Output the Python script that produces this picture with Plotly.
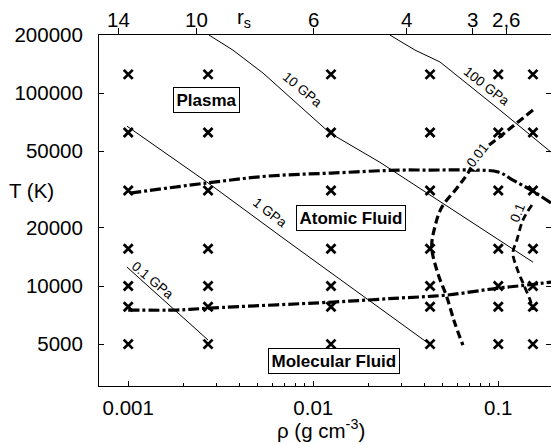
import math
import plotly.graph_objects as go

# ---------------- data ----------------
# simulation grid points (crosses)
grid_rho = [0.001, 0.0027, 0.01247, 0.0428, 0.1, 0.154]
grid_T = [125000, 62500, 31250, 15625, 10000, 7800, 5000]

# plasma / atomic-fluid boundary (thick dash-dot)
upper_rho = [0.00102, 0.00266, 0.00562, 0.0125, 0.0294, 0.0427, 0.0703, 0.100, 0.120, 0.154, 0.193]
upper_T = [30300, 34200, 37100, 38500, 39900, 39900, 39900, 39000, 35400, 31000, 26900]

# atomic / molecular-fluid boundary (thick dash-dot)
lower_rho = [0.001, 0.00183, 0.00277, 0.0128, 0.0294, 0.0528, 0.100, 0.1435, 0.193]
lower_T = [7510, 7510, 7690, 8260, 8670, 8980, 9760, 10120, 10490]

# dashed contours labelled 0.01 and 0.1
c001_rho = [0.154, 0.100, 0.0797, 0.0686, 0.0598, 0.0495, 0.0454, 0.0437, 0.0471, 0.0527, 0.0582, 0.0644]
c001_T = [81600, 58500, 48900, 38500, 32200, 25600, 20200, 15900, 11670, 8770, 6430, 4940]
c01_rho = [0.152, 0.136, 0.126, 0.120, 0.126, 0.136, 0.1486, 0.154]
c01_T = [26300, 22000, 17300, 14830, 12400, 10360, 8460, 7510]

# isobars (thin solid)
iso01_rho = [0.000984, 0.00270]
iso01_T = [12540, 5250]
iso1_rho = [0.000984, 0.00266, 0.00686, 0.0229, 0.0416]
iso1_T = [67400, 34600, 17740, 7690, 5070]
iso10_rho = [0.00273, 0.00368, 0.00535, 0.0123, 0.0229, 0.154]
iso10_T = [200000, 167000, 127000, 62100, 43800, 13300]
iso100_rho = [0.02594, 0.0355, 0.0484, 0.1021, 0.193]
iso100_T = [200000, 167000, 145000, 81600, 49400]

# axes ticks
x_tickvals = [0.001, 0.01, 0.1]
x_ticktext = ["0.001", "0.01", "0.1"]
x_minor = [k * 0.001 for k in range(2, 10)] + [k * 0.01 for k in range(2, 10)]
y_tickvals = [5000, 10000, 20000, 50000, 100000, 200000]
y_ticktext = ["5000", "10000", "20000", "50000", "100000", "200000"]
rs_rho = [0.000891, 0.002351, 0.0100, 0.03209, 0.07297, 0.1101]
rs_text = ["14", "10", "6", "4", "3", "2,6"]

# ---------------- layout geometry ----------------
W, H = 551, 445
ML, MR, MT, MB = 99, 0, 35, 59
PW, PH = W - ML - MR, H - MT - MB
XR = [-3.158, -0.715]
YR = [3.4819, 5.30103]
FONT = "Liberation Sans"
TICKFS = 20.5


def px(x):
    return (x - ML) / PW


def py(y):
    return (H - MB - y) / PH


fig = go.Figure()

# crosses
gx, gy = [], []
for r in grid_rho:
    for t in grid_T:
        gx.append(r)
        gy.append(t)
fig.add_trace(go.Scatter(x=gx, y=gy, mode="markers",
                         marker=dict(symbol="x-thin", size=9, color="black",
                                     line=dict(width=2.8, color="black")),
                         showlegend=False, hoverinfo="skip"))

# isobars
for rr, tt in [(iso01_rho, iso01_T), (iso1_rho, iso1_T), (iso10_rho, iso10_T), (iso100_rho, iso100_T)]:
    fig.add_trace(go.Scatter(x=rr, y=tt, mode="lines", line=dict(color="black", width=1),
                             showlegend=False, hoverinfo="skip"))

# phase boundaries
for rr, tt in [(upper_rho, upper_T), (lower_rho, lower_T)]:
    fig.add_trace(go.Scatter(x=rr, y=tt, mode="lines", line_shape="spline",
                             line=dict(color="black", width=3.2, dash="11px,3px,3px,3px"),
                             showlegend=False, hoverinfo="skip"))

# dashed contours
fig.add_trace(go.Scatter(x=c001_rho, y=c001_T, mode="lines", line_shape="spline",
                         line=dict(color="black", width=3.2, dash="8px,4px"),
                         showlegend=False, hoverinfo="skip"))
fig.add_trace(go.Scatter(x=c01_rho, y=c01_T, mode="lines", line_shape="spline",
                         line=dict(color="black", width=2.8, dash="7px,4px"),
                         showlegend=False, hoverinfo="skip"))

# invisible trace for top r_s axis
fig.add_trace(go.Scatter(x=rs_rho, y=[100000] * len(rs_rho), xaxis="x2", mode="markers",
                         marker=dict(opacity=0), showlegend=False, hoverinfo="skip"))

annotations = []

# boxed region labels
for txt, cx, cy in [("Plasma", 206.5, 100.5), ("Atomic Fluid", 350.5, 218), ("Molecular Fluid", 334, 361)]:
    annotations.append(dict(text="<b>%s</b>" % txt, x=px(cx), y=py(cy), xref="paper", yref="paper",
                            xanchor="center", yanchor="middle", showarrow=False,
                            font=dict(family=FONT, size=17, color="black"),
                            bgcolor="white", bordercolor="black", borderwidth=1, borderpad=2.5))

# rotated line labels
for txt, cx, cy, ang, bg in [("0.1 GPa", 153, 280, 40, None), ("1 GPa", 270, 212, 38, None),
                             ("10 GPa", 302, 90, 40, None), ("100 GPa", 487, 86, 38, None),
                             ("0.01", 477, 155, -52, "white"), ("0.1", 517, 213, -68, None)]:
    ann = dict(text=txt, x=px(cx), y=py(cy), xref="paper", yref="paper",
               xanchor="center", yanchor="middle", showarrow=False, textangle=ang,
               font=dict(family=FONT, size=13.5, color="black"))
    if bg:
        ann["bgcolor"] = bg
        ann["borderpad"] = 0
    annotations.append(ann)

# top r_s tick labels
for r, t in zip(rs_rho, rs_text):
    annotations.append(dict(text=t, x=math.log10(r), y=py(20), xref="x2", yref="paper",
                            xanchor="center", yanchor="middle", showarrow=False,
                            font=dict(family=FONT, size=TICKFS, color="black")))

# axis titles
annotations.append(dict(text="T (K)", x=px(31), y=py(190), xref="paper", yref="paper",
                        xanchor="center", yanchor="middle", showarrow=False,
                        font=dict(family=FONT, size=TICKFS, color="black")))
annotations.append(dict(text="ρ (g cm<sup>-3</sup>)", x=px(321), y=py(429), xref="paper", yref="paper",
                        xanchor="center", yanchor="middle", showarrow=False,
                        font=dict(family=FONT, size=TICKFS, color="black")))
annotations.append(dict(text="r<sub>s</sub>", x=px(244), y=py(18), xref="paper", yref="paper",
                        xanchor="center", yanchor="middle", showarrow=False,
                        font=dict(family=FONT, size=TICKFS, color="black")))

fig.update_layout(
    width=W, height=H,
    margin=dict(l=ML, r=MR, t=MT, b=MB, pad=0),
    paper_bgcolor="white", plot_bgcolor="white",
    font=dict(family=FONT, size=TICKFS, color="black"),
    showlegend=False,
    annotations=annotations,
    xaxis=dict(type="log", range=XR, showgrid=False, zeroline=False,
               showline=True, linecolor="black", linewidth=1, mirror=False,
               ticks="inside", ticklen=5, tickwidth=1, tickcolor="black",
               tickmode="array", tickvals=x_tickvals, ticktext=x_ticktext,
               ticklabelstandoff=3,
               minor=dict(tickmode="array", tickvals=x_minor, ticks="inside", ticklen=3,
                          tickcolor="black", tickwidth=1, showgrid=False)),
    xaxis2=dict(type="log", range=XR, overlaying="x", side="top", anchor="y",
                showgrid=False, zeroline=False, showline=True, linecolor="black", linewidth=1,
                ticks="outside", ticklen=6, tickwidth=1, tickcolor="black",
                tickmode="array", tickvals=rs_rho, ticktext=rs_text, showticklabels=False),
    yaxis=dict(type="log", range=YR, showgrid=False, zeroline=False,
               showline=True, linecolor="black", linewidth=1, mirror="ticks",
               ticks="inside", ticklen=5, tickwidth=1, tickcolor="black",
               tickmode="array", tickvals=y_tickvals, ticktext=y_ticktext,
               ticklabelstandoff=11),
)

fig.write_html("out.html")
